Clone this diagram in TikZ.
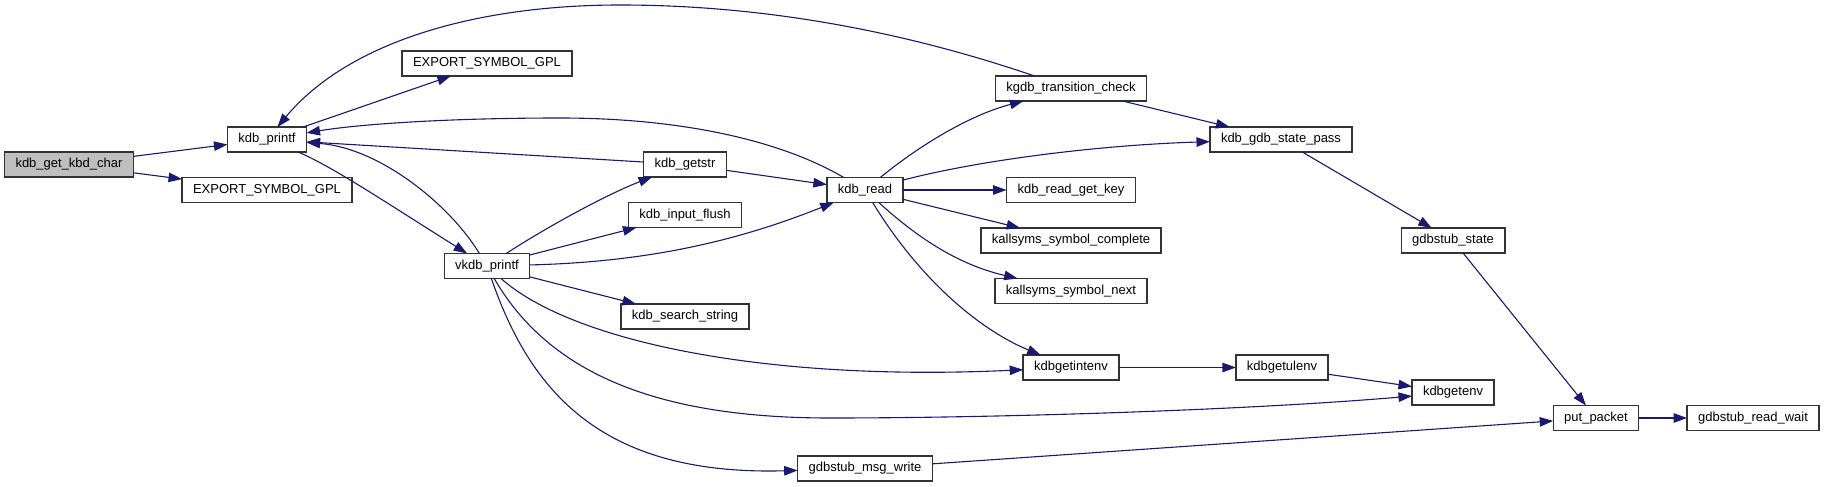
\documentclass[tikz,border=0pt]{standalone}
\usepackage{fontspec}
\setmainfont{Liberation Sans}
\usetikzlibrary{arrows.meta}
\definecolor{edgeblue}{RGB}{25,25,112}
\definecolor{boxgray}{RGB}{191,191,191}
\begin{document}
\begin{tikzpicture}[x=1pt,y=-1pt,
  fn/.style={draw=black!80, line width=1.3pt, fill=white, rectangle, minimum height=25pt,
             inner xsep=11pt, inner ysep=2pt, font=\fontsize{13}{15}\selectfont, outer sep=0pt},
  root/.style={fn, fill=boxgray},
  call/.style={draw=edgeblue, line width=1.1pt, -{Triangle[length=13.5pt,width=9.5pt]}}]
\useasboundingbox (0,0) rectangle (1824,487);
% nodes
\node[root] (getkbd) at (69,164.5) {kdb\_get\_kbd\_char};
\node[fn] (printf) at (267,139.5) {kdb\_printf};
\node[fn] (expA) at (487,63.5) {EXPORT\_SYMBOL\_GPL};
\node[fn] (expB) at (267,190) {EXPORT\_SYMBOL\_GPL};
\node[fn] (vkdb) at (487,266) {vkdb\_printf};
\node[fn] (getstr) at (685,164.5) {kdb\_getstr};
\node[fn] (flush) at (685,215) {kdb\_input\_flush};
\node[fn] (search) at (685,316.5) {kdb\_search\_string};
\node[fn] (read) at (865,190) {kdb\_read};
\node[fn] (ktc) at (1071,88.5) {kgdb\_transition\_check};
\node[fn] (gsp) at (1281,139.5) {kdb\_gdb\_state\_pass};
\node[fn] (rgk) at (1071,190) {kdb\_read\_get\_key};
\node[fn] (ksc) at (1071,240.5) {kallsyms\_symbol\_complete};
\node[fn] (ksn) at (1071,291) {kallsyms\_symbol\_next};
\node[fn] (kgi) at (1071,367.5) {kdbgetintenv};
\node[fn] (kgu) at (1282,367.5) {kdbgetulenv};
\node[fn] (kge) at (1453,392.5) {kdbgetenv};
\node[fn] (gstate) at (1453,240.5) {gdbstub\_state};
\node[fn] (put) at (1596,418) {put\_packet};
\node[fn] (grw) at (1753,418) {gdbstub\_read\_wait};
\node[fn] (msg) at (865,468.5) {gdbstub\_msg\_write};
% edges
\draw[call] (getkbd) -- (printf);
\draw[call] (getkbd) -- (expB);
\draw[call] (printf) -- (expA);
\draw[call] (printf) .. controls (330,165) and (390,205) .. (vkdb);
\draw[call] (vkdb) .. controls (450,205) and (380,148) .. (printf);
\draw[call] (vkdb) .. controls (550,225) and (610,193) .. (getstr);
\draw[call] (vkdb) -- (flush);
\draw[call] (vkdb) .. controls (650,262) and (740,240) .. (read);
\draw[call] (vkdb) -- (search);
\draw[call] (vkdb) .. controls (570,340) and (760,382) .. (kgi);
\draw[call] (vkdb) .. controls (550,375) and (660,418) .. (830,418)
                   .. controls (1000,418) and (1250,410) .. (kge);
\draw[call] (vkdb) .. controls (530,390) and (600,476) .. (msg);
\draw[call] (getstr) -- (printf);
\draw[call] (getstr) -- (read);
\draw[call] (read) .. controls (780,140) and (680,118) .. (560,118)
                   .. controls (450,118) and (360,124) .. (printf);
\draw[call] (read) .. controls (920,145) and (970,115) .. (ktc);
\draw[call] (read) .. controls (980,160) and (1100,145) .. (gsp);
\draw[call] (read) -- (rgk);
\draw[call] (read) -- (ksc);
\draw[call] (read) .. controls (920,240) and (960,265) .. (ksn);
\draw[call] (read) .. controls (920,280) and (980,330) .. (kgi);
\draw[call] (ktc) .. controls (900,30) and (760,5) .. (620,5)
                  .. controls (480,5) and (350,40) .. (printf);
\draw[call] (ktc) -- (gsp);
\draw[call] (gsp) -- (gstate);
\draw[call] (gstate) -- (put);
\draw[call] (kgi) -- (kgu);
\draw[call] (kgu) -- (kge);
\draw[call] (msg) -- (put);
\draw[call] (put) -- (grw);
\end{tikzpicture}
\end{document}
